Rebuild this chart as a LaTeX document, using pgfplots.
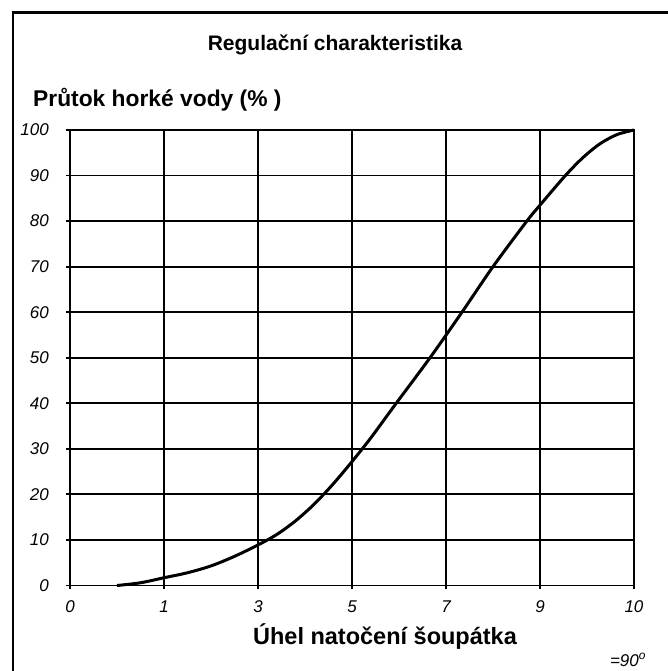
\documentclass[border=0pt]{standalone}
\usepackage{fontspec}
\setmainfont{Liberation Sans}
\usepackage{pgfplots}
\pgfplotsset{compat=1.18}
\begin{document}
\begin{tikzpicture}[x=1pt,y=1pt]
\useasboundingbox (0,0) rectangle (668,671);
\begin{axis}[
  at={(70pt,85.5pt)}, anchor=south west,
  width=564pt, height=455.5pt, scale only axis,
  xmin=0, xmax=6, ymin=0, ymax=100,
  xtick={0,1,2,3,4,5,6},
  xticklabels={0,1,3,5,7,9,10},
  ytick={0,10,...,100},
  grid=major,
  major grid style={line width=1.8pt, black},
  axis line style={line width=1.8pt, black},
  tick pos=left,
  tick align=outside,
  major tick length=4pt,
  major tick style={line width=1.8pt, black},
  /pgf/number format/assume math mode=true,
  tick label style={font=\fontsize{17}{19}\selectfont\itshape, inner sep=0pt},
  yticklabel style={anchor=east, xshift=-17pt},
  xticklabel style={anchor=north, yshift=-11pt},
  clip=false,
]
\addplot[black, line width=3pt, smooth] coordinates {
 (0.5,0) (0.75,0.6) (1.0,1.7) (1.25,2.8) (1.5,4.3) (1.75,6.4) (2.0,8.9)
 (2.2,11.2) (2.4,14.2) (2.6,17.9) (2.8,22.3) (3.0,27.2) (3.2,32.4)
 (3.47,40) (3.83,50) (4.17,60) (4.5,70) (4.86,80) (5.0,83.5)
 (5.27,90) (5.46,94) (5.64,97) (5.82,99) (6.0,100)
};
\end{axis}
\draw[line width=2.5pt] (12.75,0) -- (12.75,658.5) -- (668,658.5);
\node[font=\fontsize{21}{24}\selectfont\bfseries] at (335,626) {Regulační charakteristika};
\node[font=\fontsize{22.8}{26}\selectfont\bfseries, anchor=west, inner sep=0pt] at (33,571) {Průtok horké vody (\% )};
\node[font=\fontsize{23.5}{27}\selectfont\bfseries] at (385,34) {Úhel natočení šoupátka};
\node[font=\fontsize{17}{20}\selectfont\itshape] at (628,11) {=90\textsuperscript{o}};
\end{tikzpicture}
\end{document}
